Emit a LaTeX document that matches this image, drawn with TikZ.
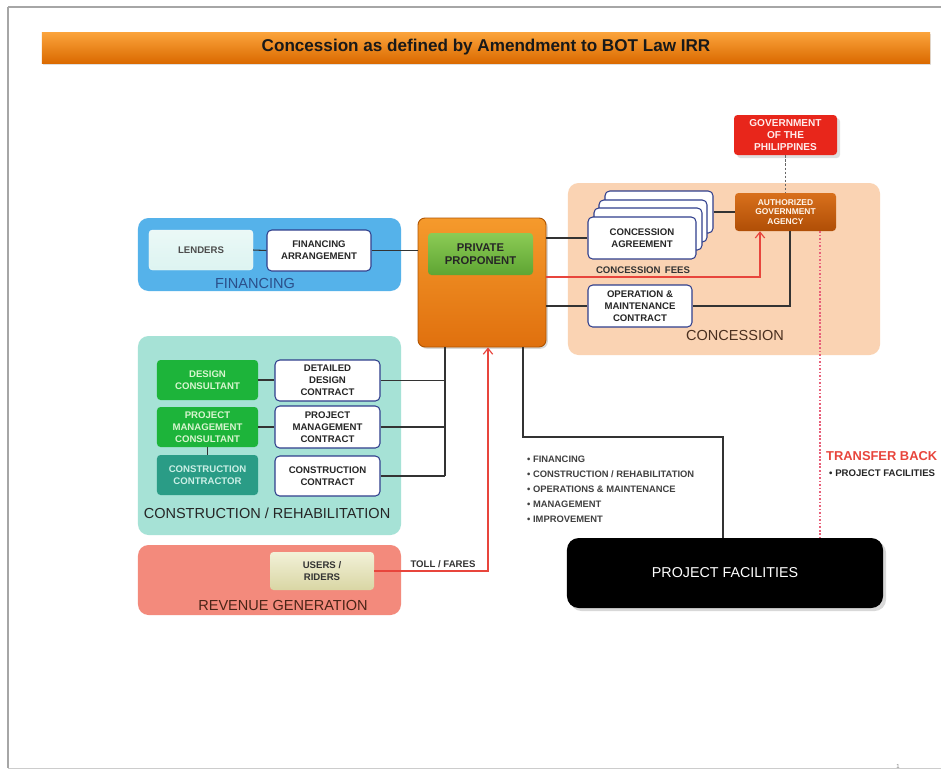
\documentclass[tikz,border=0pt]{standalone}
\usepackage{fontspec}
\setmainfont{Liberation Sans}
\usetikzlibrary{arrows.meta,shadows}
\definecolor{titleTop}{HTML}{FBA43C}
\definecolor{titleBot}{HTML}{DB6A00}
\definecolor{finBlue}{HTML}{55B2EA}
\definecolor{finText}{HTML}{2B4F8A}
\definecolor{lendC}{HTML}{DDF4F1}
\definecolor{navyB}{HTML}{2F3E8C}
\definecolor{propTop}{HTML}{F59A2C}
\definecolor{propBot}{HTML}{E0700E}
\definecolor{propEdge}{HTML}{B05400}
\definecolor{greenTop}{HTML}{8CCB55}
\definecolor{greenBot}{HTML}{5EA533}
\definecolor{conTeal}{HTML}{A6E2D6}
\definecolor{desGreen}{HTML}{1DB43A}
\definecolor{desText}{HTML}{D8F5CF}
\definecolor{ctrTeal}{HTML}{2A9C86}
\definecolor{ctrText}{HTML}{CBEFE6}
\definecolor{revSalmon}{HTML}{F38A7C}
\definecolor{revText}{HTML}{4A2417}
\definecolor{userTop}{HTML}{F2F1D8}
\definecolor{userBot}{HTML}{D9D6A4}
\definecolor{concPeach}{HTML}{FAD3B3}
\definecolor{concText}{HTML}{4A3020}
\definecolor{agaTop}{HTML}{D8701C}
\definecolor{agaBot}{HTML}{B04E06}
\definecolor{govRed}{HTML}{E8261B}
\definecolor{lineRed}{HTML}{E8453C}
\definecolor{lineDark}{HTML}{333333}
\definecolor{pinkDot}{HTML}{E8607A}
\tikzset{
  grp/.style={rounded corners=9pt, draw=none, inner sep=0pt},
  wbox/.style={rounded corners=4pt, draw=navyB, line width=0.9pt, fill=white, align=center,
    font=\fontsize{8.2}{10.2}\selectfont\bfseries, text=black!85, inner sep=1pt},
  gbox/.style={rounded corners=3pt, draw=none, align=center,
    font=\fontsize{8.2}{10.2}\selectfont\bfseries, inner sep=1pt},
  grplabel/.style={font=\fontsize{12.4}{13}\selectfont, inner sep=0pt},
  smalltxt/.style={font=\fontsize{8.2}{9}\selectfont\bfseries, text=black!80, inner sep=0pt},
  conn/.style={draw=lineDark, line width=0.9pt},
  redconn/.style={draw=lineRed, line width=1pt},
}
\begin{document}
\begin{tikzpicture}[x=0.03cm,y=-0.03cm]
\useasboundingbox (0,0) rectangle (941,772);
\fill[white] (0,0) rectangle (941,772);
\draw[gray!70, line width=1pt] (8,7) -- (941,7);
\draw[gray!70, line width=1pt] (8,7) -- (8,768);
\draw[gray!40, line width=0.6pt] (8,768) -- (941,768);
\node[font=\fontsize{5}{6}\selectfont, text=gray] (pgnum) at (898,766) {1};

% title
\node[draw=none, top color=titleTop, bottom color=titleBot, minimum width=26.64cm, minimum height=0.93cm,
  drop shadow={opacity=0.25, shadow xshift=0.5pt, shadow yshift=-1.5pt},
  font=\fontsize{14.6}{16}\selectfont\bfseries, text=black!90] (title) at (486,47.5)
  {Concession as defined by Amendment to BOT Law IRR};

% groups
\node[grp, fill=finBlue, minimum width=7.89cm, minimum height=2.19cm] (finG) at (269.5,254.5) {};
\node[grp, fill=conTeal, minimum width=7.89cm, minimum height=5.97cm] (conG) at (269.5,435.5) {};
\node[grp, fill=revSalmon, minimum width=7.89cm, minimum height=2.10cm] (revG) at (269.5,580) {};
\node[grp, fill=concPeach, minimum width=9.36cm, minimum height=5.16cm] (concG) at (724,269) {};

\node[grplabel, text=finText] (finL) at (255,283) {FINANCING};
\node[grplabel, text=black!85] (conL) at (267,513) {CONSTRUCTION / REHABILITATION};
\node[grplabel, text=revText] (revL) at (283,605) {REVENUE GENERATION};
\node[grplabel, text=concText] (concL) at (735,335) {CONCESSION};

% financing
\node[gbox, top color=lendC!60!white, bottom color=lendC, draw=white!70!lendC, text=black!70,
  minimum width=3.12cm, minimum height=1.2cm] (lenders) at (201,250) {LENDERS};
\node[wbox, minimum width=3.12cm, minimum height=1.23cm] (finarr) at (319,250.5) {FINANCING\\ARRANGEMENT};

% proponent
\node[rounded corners=6pt, draw=propEdge, line width=0.8pt, top color=propTop, bottom color=propBot,
  minimum width=3.84cm, minimum height=3.87cm,
  drop shadow={opacity=0.3, shadow xshift=1.5pt, shadow yshift=-1.5pt}] (prop) at (482,282.5) {};
\node[gbox, top color=greenTop, bottom color=greenBot, text=black!85, font=\fontsize{9.6}{10.6}\selectfont\bfseries,
  minimum width=3.15cm, minimum height=1.26cm] (propin) at (480.5,254) {PRIVATE\\PROPONENT};

% construction
\node[gbox, fill=desGreen, text=desText, minimum width=3.03cm, minimum height=1.2cm] (dcons) at (207.5,380) {DESIGN\\CONSULTANT};
\node[gbox, fill=desGreen, text=desText, minimum width=3.03cm, minimum height=1.2cm] (pmcons) at (207.5,427) {PROJECT\\MANAGEMENT\\CONSULTANT};
\node[gbox, fill=ctrTeal, text=ctrText, minimum width=3.03cm, minimum height=1.2cm] (ccons) at (207.5,475) {CONSTRUCTION\\CONTRACTOR};
\node[wbox, minimum width=3.15cm, minimum height=1.23cm] (ddc) at (327.5,380.5) {DETAILED\\DESIGN\\CONTRACT};
\node[wbox, minimum width=3.15cm, minimum height=1.26cm] (pmc) at (327.5,427) {PROJECT\\MANAGEMENT\\CONTRACT};
\node[wbox, minimum width=3.15cm, minimum height=1.2cm] (cc) at (327.5,476) {CONSTRUCTION\\CONTRACT};

% revenue
\node[gbox, top color=userTop, bottom color=userBot, text=black!80, minimum width=3.12cm, minimum height=1.14cm] (users) at (322,571) {USERS /\\RIDERS};

% concession
\node[wbox, minimum width=3.24cm, minimum height=1.26cm] (ca3) at (659,212) {};
\node[wbox, minimum width=3.24cm, minimum height=1.26cm] (ca2) at (653,221) {};
\node[wbox, minimum width=3.24cm, minimum height=1.26cm] (ca1) at (648,229) {};
\node[wbox, minimum width=3.24cm, minimum height=1.26cm] (ca) at (642,238) {CONCESSION\\AGREEMENT};
\node[wbox, minimum width=3.12cm, minimum height=1.26cm] (om) at (640,306) {OPERATION \&\\MAINTENANCE\\CONTRACT};
\node[gbox, top color=agaTop, bottom color=agaBot, text=white!92!orange, font=\fontsize{7.2}{8.2}\selectfont\bfseries,
  minimum width=3.03cm, minimum height=1.14cm] (aga) at (785.5,212) {AUTHORIZED\\GOVERNMENT\\AGENCY};
\node[gbox, fill=govRed, text=white!92!red, font=\fontsize{8.6}{10.2}\selectfont\bfseries,
  minimum width=3.09cm, minimum height=1.2cm, drop shadow={opacity=0.25}] (gov) at (785.5,135) {GOVERNMENT\\OF THE\\PHILIPPINES};

% project facilities
\node[rounded corners=10pt, fill=black, text=white!90, font=\fontsize{12.2}{13}\selectfont,
  minimum width=9.48cm, minimum height=2.1cm, drop shadow={opacity=0.3}] (pf) at (725,573) {PROJECT FACILITIES};

% connectors: financing
\draw[conn] (lenders.east) -- (finarr.west);
\draw[conn] (finarr.east) -- (finarr.east -| prop.west);

% connectors: construction
\coordinate (busTop) at (445,347);
\coordinate (busBot) at (445,476);
\draw[conn] (dcons.east) -- (dcons.east -| ddc.west);
\draw[conn] (pmcons.east) -- (pmcons.east -| pmc.west);
\draw[conn] (pmcons.south) -- (ccons.north);
\draw[conn] (ddc.east) -- (ddc.east -| busTop);
\draw[conn] (pmc.east) -- (pmc.east -| busTop);
\draw[conn] (cc.east) -- (busBot);
\draw[conn] (busTop) -- (busBot);

% proponent to project facilities
\coordinate (pfTurnA) at (523,347);
\coordinate (pfTurnB) at (523,437);
\coordinate (pfTurnC) at (723,437);
\draw[conn] (pfTurnA) -- (pfTurnB) -- (pfTurnC) -- (pfTurnC |- pf.north);

% revenue
\coordinate (tollTurn) at (488,571);
\draw[redconn, -{Straight Barb[length=5pt,width=8pt]}] (users.east) -- (tollTurn) -- (tollTurn |- prop.south);
\node[smalltxt] (tollL) at (443,564) {TOLL / FARES};

% concession
\coordinate (caL) at (546,238);
\draw[conn] (caL) -- (ca.west);
\draw[conn] (ca3.east |- aga.west) -- (aga.west);
\coordinate (feeL) at (546,277);
\coordinate (feeTurn) at (760,277);
\draw[redconn, -{Straight Barb[length=5pt,width=8pt]}] (feeL) -- (feeTurn) -- (feeTurn |- aga.south);
\node[smalltxt] (feeT) at (643,270.5) {CONCESSION\, FEES};
\coordinate (omL) at (546,306);
\coordinate (omTurn) at (790,306);
\draw[conn] (omL) -- (om.west);
\draw[conn] (om.east) -- (omTurn) -- (omTurn |- aga.south);
\draw[gray!80!black, line width=1pt, dash pattern=on 2pt off 1.5pt] (gov.south) -- (aga.north);
\coordinate (tbTop) at (820,231);
\draw[pinkDot, line width=0.9pt, dash pattern=on 1.5pt off 1.5pt] (tbTop) -- (tbTop |- pf.north);

% lists
\node[smalltxt, anchor=north west, align=left, font=\fontsize{8}{12.8}\selectfont\bfseries, text=black!75] (list) at (527,456)
  {• FINANCING\\• CONSTRUCTION / REHABILITATION\\• OPERATIONS \& MAINTENANCE\\• MANAGEMENT\\• IMPROVEMENT};
\node[anchor=west, inner sep=0pt, font=\fontsize{11}{12}\selectfont\bfseries, text=lineRed] (tb) at (826,456) {TRANSFER BACK};
\node[smalltxt, anchor=west, text=black!85] (tbl) at (829,473) {• PROJECT FACILITIES};
\end{tikzpicture}
\end{document}
